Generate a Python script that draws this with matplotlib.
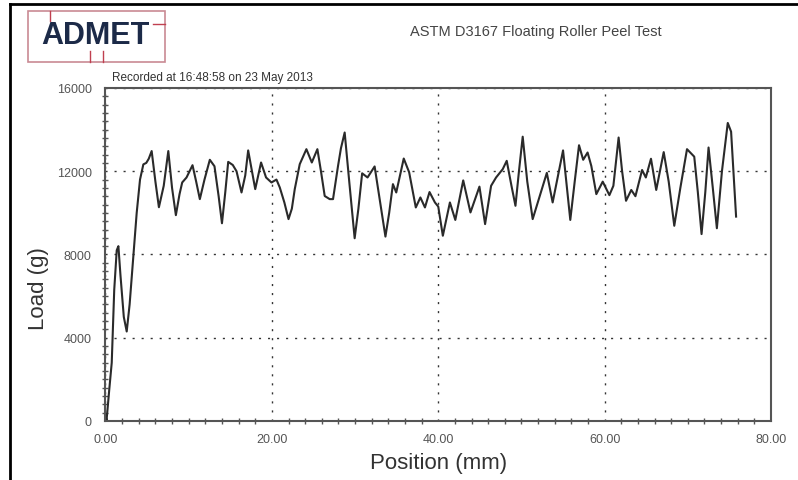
import numpy as np
import matplotlib.pyplot as plt
from matplotlib.patches import Rectangle
from matplotlib.lines import Line2D

plt.rcParams['font.family'] = ['Liberation Sans', 'DejaVu Sans']

title = "ASTM D3167 Floating Roller Peel Test"
recorded = "Recorded at 16:48:58 on 23 May 2013"
xticks = [0, 20, 40, 60, 80]
yticks = [0, 4000, 8000, 12000, 16000]

# position (mm) and load (g)
position = [0.0, 0.12, 0.45, 0.75, 1.05, 1.35, 1.55, 1.8, 2.2, 2.55,
            2.9, 3.35, 3.75, 4.15, 4.55, 4.9, 5.2, 5.55, 6.0, 6.42,
            7.0, 7.55, 8.0, 8.46, 8.9, 9.22, 9.74, 10.46, 10.9, 11.34,
            11.9, 12.54, 13.1, 13.6, 14.0, 14.4, 14.75, 15.3, 15.75, 16.35,
            16.8, 17.15, 17.6, 18.0, 18.7, 19.3, 19.95, 20.55, 20.95, 21.5,
            22.0, 22.4, 22.75, 23.35, 24.15, 24.8, 25.47, 25.9, 26.35, 26.95,
            27.35, 27.95, 28.3, 28.75, 29.3, 29.95, 30.4, 30.85, 31.5, 32.35,
            32.9, 33.65, 34.1, 34.55, 34.95, 35.85, 36.5, 37.3, 37.85, 38.4,
            38.95, 39.6, 40.0, 40.55, 41.4, 42.05, 43.0, 43.87, 44.95, 45.63,
            46.35, 46.95, 47.75, 48.23, 48.8, 49.28, 49.7, 50.15, 50.7, 51.35,
            52.15, 53.05, 53.75, 54.4, 55.0, 55.87, 56.4, 56.92, 57.42, 57.95,
            58.4, 59.0, 59.77, 60.57, 61.05, 61.68, 62.1, 62.57, 63.2, 63.7,
            64.5, 64.95, 65.57, 66.2, 67.1, 67.7, 68.37, 69.1, 69.9, 70.77,
            71.2, 71.65, 72.1, 72.49, 73.0, 73.49, 74.1, 74.8, 75.2, 75.8]
load = [300, 0, 1500, 2800, 6300, 8200, 8400, 7000, 5000, 4300,
        5600, 7900, 10000, 11600, 12330, 12400, 12600, 12970, 11500, 10270,
        11300, 12970, 11200, 9890, 10900, 11460, 11700, 12290, 11500, 10660,
        11600, 12550, 12240, 10800, 9500, 11000, 12450, 12300, 12000, 10980,
        11800, 13000, 12000, 11140, 12420, 11700, 11460, 11600, 11220, 10500,
        9700, 10200, 11140, 12340, 13060, 12420, 13060, 12000, 10810, 10660,
        10660, 12250, 13100, 13860, 11500, 8780, 10200, 11900, 11700, 12230,
        10800, 8860, 10000, 11380, 10980, 12610, 11950, 10260, 10740, 10260,
        11000, 10500, 10300, 8900, 10500, 9660, 11560, 10020, 11260, 9460,
        11300, 11700, 12100, 12500, 11300, 10340, 12000, 13660, 11500, 9700,
        10740, 11920, 10500, 11800, 13000, 9660, 11500, 13250, 12550, 12900,
        12250, 10900, 11500, 10850, 11300, 13620, 12000, 10580, 11100, 10800,
        12060, 11700, 12600, 11100, 12920, 11500, 9380, 11200, 13060, 12700,
        11000, 8980, 11000, 13140, 11200, 9260, 12000, 14320, 13900, 9820]

fig = plt.figure(figsize=(7.98, 4.81), dpi=100)
ax = fig.add_axes([0.1322, 0.1227, 0.8340, 0.6923])

ax.plot(position, load, color='#2a2a2a', lw=1.5, solid_joinstyle='round')

ax.set_xlim(0, 80)
ax.set_ylim(0, 16000)
ax.set_xticks(xticks)
ax.set_xticklabels(["%.2f" % v for v in xticks])
ax.set_yticks(yticks)
ax.set_xticks(np.arange(0, 81, 2), minor=True)
ax.set_yticks(np.arange(0, 16001, 400), minor=True)
ax.tick_params(axis='both', which='major', length=0, labelsize=9, labelcolor='#555555')
ax.tick_params(axis='x', which='major', pad=9)
ax.tick_params(axis='y', which='major', pad=10)
ax.tick_params(axis='both', which='minor', direction='inout', length=4, width=1, color='#555555')

ax.grid(True, which='major', color='#333333', lw=1, linestyle=(0, (1.5, 5)))
ax.set_axisbelow(True)
for side in ['left', 'right', 'top', 'bottom']:
    ax.spines[side].set_color('#555555')
    ax.spines[side].set_linewidth(1.5)

ax.set_xlabel("Position (mm)", fontsize=16, color='#333333', labelpad=5)
fig.text(0.048, 0.40, "Load (g)", rotation=90, fontsize=16, color='#333333', ha='center', va='center')

fig.text(536 / 798, 1 - 32 / 481, title, fontsize=10.5, color='#444444', ha='center', va='center')
fig.text(112 / 798, 1 - 78 / 481, recorded, fontsize=8.5, color='#333333', ha='left', va='center')

# logo box
fig.patches.append(Rectangle((28 / 798, 1 - 63 / 481), 137 / 798, 51 / 481,
                             transform=fig.transFigure, fill=False,
                             edgecolor='#c98a94', lw=1.2))
fig.text(95 / 798, 1 - 36 / 481, "ADMET", fontsize=22, fontweight='bold',
         color='#1c2a48', ha='center', va='center')
fig.lines.append(Line2D([50 / 798, 50 / 798], [1 - 12 / 481, 1 - 22 / 481],
                        transform=fig.transFigure, color='#c04050', lw=1))
fig.lines.append(Line2D([153 / 798, 165 / 798], [1 - 25 / 481, 1 - 25 / 481],
                        transform=fig.transFigure, color='#c04050', lw=1))
for xp in [90, 103]:
    fig.lines.append(Line2D([xp / 798, xp / 798], [1 - 63 / 481, 1 - 52 / 481],
                            transform=fig.transFigure, color='#c04050', lw=1))

# outer frame
fig.lines.append(Line2D([10 / 798, 1], [1 - 5 / 481, 1 - 5 / 481],
                        transform=fig.transFigure, color='black', lw=2))
fig.lines.append(Line2D([10 / 798, 10 / 798], [0, 1 - 5 / 481],
                        transform=fig.transFigure, color='black', lw=2))

fig.savefig("out.png", dpi=100)
